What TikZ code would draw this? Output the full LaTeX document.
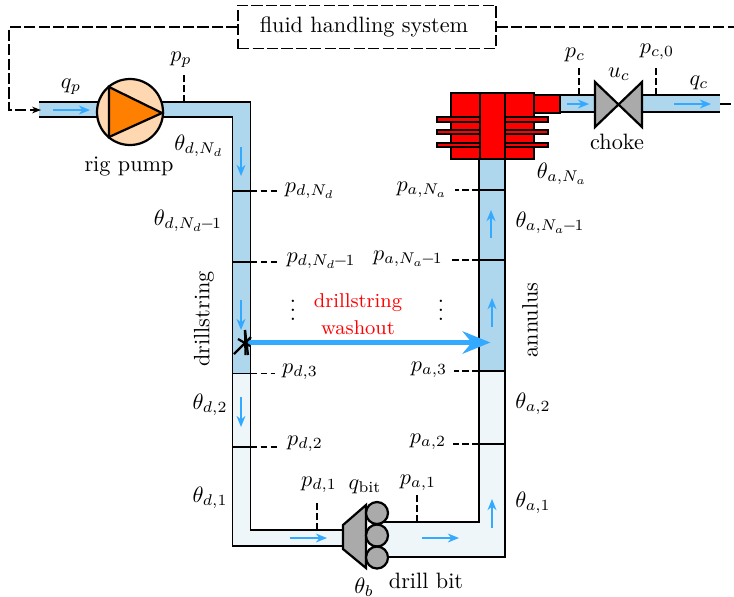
\documentclass[tikz,border=0pt]{standalone}
\usepackage{amsmath}
\definecolor{pipefull}{HTML}{AED6EC}
\definecolor{pipepale}{HTML}{EEF6FA}
\definecolor{flowblue}{HTML}{33AAFF}
\definecolor{pumpskin}{HTML}{FFD7B0}
\definecolor{pumporange}{HTML}{FF8000}
\definecolor{metalgray}{HTML}{AAAAAA}
\usetikzlibrary{arrows.meta}
\tikzset{
  wall/.style={draw=black, line width=0.8pt},
  part/.style={draw=black, line width=1pt, line join=miter},
  redpart/.style={part, fill=red},
  sensor/.style={dash pattern=on 3pt off 1.5pt, line width=0.6pt},
  signal/.style={dash pattern=on 5pt off 1.5pt, line width=0.6pt},
  flow/.style={-{Stealth[length=5pt,width=4pt]}, flowblue, line width=0.7pt},
  lbl/.style={inner sep=2.5pt},
  sensorlbl/.style={inner sep=3pt}
}
\begin{document}
\begin{tikzpicture}[x=0.45pt, y=-0.45pt]
    \useasboundingbox (0,0) rectangle (734,596);

    % Tubazione interna
    \fill[pipefull] (39,102) -- (250.5,102) -- (250.5,373.5) -- (232.5,373.5) -- (232.5,117) -- (39,117) -- cycle;
    \fill[pipepale] (232.5,373.5) -- (250.5,373.5) -- (250.5,530) -- (345,530) -- (345,546) -- (232.5,546) -- cycle;
    \draw[wall] (39,102) -- (250.5,102) -- (250.5,530) -- (345,530);
    \draw[wall] (39,117) -- (232.5,117) -- (232.5,546) -- (345,546);

    % Anulus
    \fill[pipefull] (479,158) -- (505,158) -- (505,371) -- (479,371) -- cycle;
    \fill[pipepale] (479,371) -- (505,371) -- (505,557) -- (380,557) -- (380,522) -- (479,522) -- cycle;
    \draw[wall] (479,158) -- (479,522) -- (380,522);
    \draw[wall] (505,158) -- (505,557) -- (380,557);

    % Separatori
    \draw[wall, line width=0.6pt] (232.5,191) -- (250.5,191);
    \draw[wall, line width=0.6pt] (232.5,262) -- (250.5,262);
    \draw[wall, line width=0.6pt] (232.5,373.5) -- (250.5,373.5);
    \draw[wall, line width=0.6pt] (232.5,447) -- (250.5,447);
    \draw[wall, line width=0.6pt] (479,190) -- (505,190);
    \draw[wall, line width=0.6pt] (479,260) -- (505,260);
    \draw[wall, line width=0.6pt] (479,371) -- (505,371);
    \draw[wall, line width=0.6pt] (479,444) -- (505,444);

    % Uscita verso la valvola
    \fill[pipefull] (558,95) rectangle (595,112);
    \fill[pipefull] (642,95) rectangle (720,112);
    \draw[wall] (558,95) -- (595,95);
    \draw[wall] (558,112) -- (595,112);
    \draw[wall] (642,95) -- (720,95);
    \draw[wall] (642,112) -- (720,112);

    % Frecce di flusso
    \coordinate (fa1) at (53,110); \coordinate (fb1) at (90,110);
    \draw[flow] (fa1) -- (fb1);
    \coordinate (fa2) at (241,147); \coordinate (fb2) at (241,176);
    \draw[flow] (fa2) -- (fb2);
    \coordinate (fa3) at (241,300); \coordinate (fb3) at (241,330);
    \draw[flow] (fa3) -- (fb3);
    \coordinate (fa4) at (241,397); \coordinate (fb4) at (241,427);
    \draw[flow] (fa4) -- (fb4);
    \coordinate (fa5) at (290,538); \coordinate (fb5) at (327,538);
    \draw[flow] (fa5) -- (fb5);
    \coordinate (fa6) at (422,538); \coordinate (fb6) at (459,538);
    \draw[flow] (fa6) -- (fb6);
    \coordinate (fa7) at (492,528); \coordinate (fb7) at (492,499);
    \draw[flow] (fa7) -- (fb7);
    \coordinate (fa8) at (492,327); \coordinate (fb8) at (492,298);
    \draw[flow] (fa8) -- (fb8);
    \coordinate (fa9) at (491,238); \coordinate (fb9) at (491,210);
    \draw[flow] (fa9) -- (fb9);
    \coordinate (fa10) at (567,104); \coordinate (fb10) at (589,104);
    \draw[flow] (fa10) -- (fb10);
    \coordinate (fa11) at (674,104); \coordinate (fb11) at (711,104);
    \draw[flow] (fa11) -- (fb11);

    % Pompa
    \filldraw[part, fill=pumpskin] (130,112) circle [radius=33];
    \filldraw[part, fill=pumporange] (109,87) -- (109,137) -- (162,113) -- cycle;

    % Preventer
    \draw[redpart] (451,93) rectangle (534,159);
    \draw[redpart] (534,95) rectangle (560,113);
    \draw[redpart] (437,117) rectangle (548,122);
    \draw[redpart] (437,130) rectangle (548,134);
    \draw[redpart] (437,143) rectangle (548,147);
    \draw[redpart] (480,93) rectangle (505,159);

    % Valvola
    \filldraw[part, fill=metalgray] (595,82) -- (618.5,104.5) -- (595,127) -- cycle;
    \filldraw[part, fill=metalgray] (642,82) -- (618.5,104.5) -- (642,127) -- cycle;

    % Scalpello
    \filldraw[part, fill=metalgray] (343,525) -- (366,505) -- (366,568) -- (343,549) -- cycle;
    \filldraw[part, fill=metalgray] (377,513) circle [radius=11];
    \filldraw[part, fill=metalgray] (377,535.5) circle [radius=11];
    \filldraw[part, fill=metalgray] (377,557.5) circle [radius=11];

    % Sistema fluidi
    \node[draw, signal, minimum width=116pt, minimum height=19.5pt, inner sep=0pt] (fhs) at (367,27) {};
    \node[inner sep=0pt] (fhstext) at (364,27) {fluid handling system};
    \coordinate (ret) at (9,27);
    \coordinate (inlet) at (41,110);
    \coordinate (out) at (734,27);
    \draw[signal, -{Stealth[length=4pt,width=3pt]}] (fhs.west) -- (ret) -- (ret |- inlet) -- (inlet);
    \draw[signal] (fhs.east) -- (out);
    \coordinate (chokeend) at (720,104);
    \coordinate (chokeout) at (734,104);
    \draw[signal] (chokeend) -- (chokeout);

    % Perdita
    \node[inner sep=0pt] (leak) at (244,342.5) {};
    \node[inner sep=0pt] (leakto) at (492,342.5) {};
    \draw[-{Stealth[length=12.5pt,width=10pt]}, flowblue, line width=2pt] (leak) -- (leakto);
    \draw[line width=1pt] (245,330) -- (245.5,355);
    \draw[line width=1pt] (245,330) -- (248,355);
    \draw[line width=1pt] (234,354) -- (251,337);
    \draw[line width=1pt] (238,339) -- (250,346);
    \node[text=red, align=center, inner sep=0pt, font=\small] (wash) at (358,314) {drillstring\\[1pt]washout};

    % Sensori e etichette
    \node[sensorlbl] (pp) at (181,60) {$p_p$};
    \coordinate (tp) at (184,102);
    \draw[sensor] (tp) -- (tp |- pp.south);
    \node[sensorlbl] (pc) at (575,55) {$p_c$};
    \coordinate (tc) at (579,95);
    \draw[sensor] (tc) -- (579,67);
    \node[sensorlbl] (pc0) at (657,52) {$p_{c,0}$};
    \coordinate (tc0) at (656,95);
    \draw[sensor] (tc0) -- (656,67);

    \node[sensorlbl] (pdnd) at (310,191) {$p_{d,N_d}$};
    \coordinate (tdnd) at (250.5,191);
    \draw[sensor] (tdnd) -- (tdnd -| pdnd.west);
    \node[sensorlbl] (pdnm) at (321,261) {$p_{d,N_d\mkern-2mu-\mkern-2mu1}$};
    \coordinate (tdnm) at (250.5,262);
    \draw[sensor] (tdnm) -- (278,262);
    \node[sensorlbl] (pd3) at (300,372) {$p_{d,3}$};
    \coordinate (td3) at (250.5,373.5);
    \draw[sensor] (td3) -- (td3 -| pd3.west);
    \node[sensorlbl] (pd2) at (305,444) {$p_{d,2}$};
    \coordinate (td2) at (250.5,447);
    \draw[sensor] (td2) -- (td2 -| pd2.west);
    \node[sensorlbl] (pd1) at (319,485) {$p_{d,1}$};
    \coordinate (td1) at (317,530);
    \draw[sensor] (td1) -- (317,501);

    \node[sensorlbl] (pand) at (422,190) {$p_{a,N_a}$};
    \coordinate (tand) at (479,190);
    \draw[sensor] (tand) -- (tand -| pand.east);
    \node[sensorlbl] (panm) at (408,259) {$p_{a,N_a\mkern-2mu-\mkern-2mu1}$};
    \coordinate (tanm) at (479,260);
    \draw[sensor] (tanm) -- (452,260);
    \node[sensorlbl] (pa3) at (429,370) {$p_{a,3}$};
    \coordinate (ta3) at (479,371);
    \draw[sensor] (ta3) -- (ta3 -| pa3.east);
    \node[sensorlbl] (pa2) at (428,442) {$p_{a,2}$};
    \coordinate (ta2) at (479,444);
    \draw[sensor] (ta2) -- (ta2 -| pa2.east);
    \node[sensorlbl] (pa1) at (418,483) {$p_{a,1}$};
    \coordinate (ta1) at (417,522);
    \draw[sensor] (ta1) -- (417,495);

    % Etichette
    \node[lbl] (qp) at (71,87) {$q_p$};
    \node[lbl] (rig) at (129,166) {rig pump};
    \node[lbl] (uc) at (619,74) {$u_c$};
    \node[lbl] (choke) at (617,142) {choke};
    \node[lbl] (qc) at (699,83) {$q_c$};
    \node[lbl] (qbit) at (365,487) {$q_{\text{bit}}$};
    \node[lbl] (thb) at (364,587) {$\theta_b$};
    \node[lbl] (bit) at (426,581) {drill bit};
    \node[lbl, rotate=90] (dstr) at (204,319) {drillstring};
    \node[lbl, rotate=90] (ann) at (530,320) {annulus};
    \node[lbl] (dots1) at (293,304) {$\vdots$};
    \node[lbl] (dots2) at (441,304) {$\vdots$};

    \node[lbl] (tdnd1) at (199,146) {$\theta_{d,N_d}$};
    \node[lbl] (tdnm1) at (188,221) {$\theta_{d,N_d\mkern-2mu-\mkern-2mu1}$};
    \node[lbl] (td21) at (210,405) {$\theta_{d,2}$};
    \node[lbl] (td11) at (210,498) {$\theta_{d,1}$};
    \node[lbl] (tand1) at (562,174) {$\theta_{a,N_a}$};
    \node[lbl] (tanm1) at (550,223) {$\theta_{a,N_a\mkern-2mu-\mkern-2mu1}$};
    \node[lbl] (ta21) at (533,404) {$\theta_{a,2}$};
    \node[lbl] (ta11) at (533,503) {$\theta_{a,1}$};
\end{tikzpicture}
\end{document}
